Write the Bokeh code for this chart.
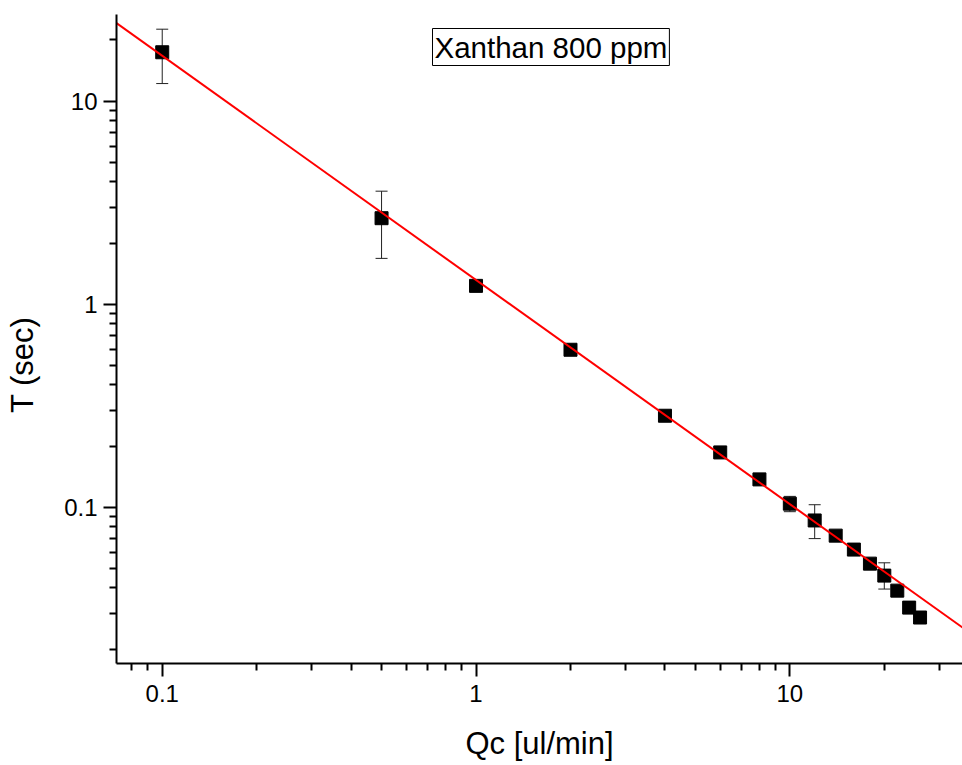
import math
from bokeh.plotting import figure
from bokeh.models import Range1d, FixedTicker, Whisker, TeeHead, ColumnDataSource, Label
from bokeh.embed import file_html
from bokeh.resources import INLINE

# ---- data ----
qc = [0.1, 0.5, 1, 2, 4, 6, 8, 10, 12, 14, 16, 18, 20, 22, 24, 26]
t_sec = [17.4, 2.65, 1.23, 0.596, 0.282, 0.186, 0.137, 0.104, 0.086, 0.0724,
         0.0618, 0.0527, 0.046, 0.0388, 0.032, 0.0286]

err_qc = [0.1, 0.5, 10, 12, 20]
err_lo = [12.2, 1.68, 0.095, 0.070, 0.0395]
err_hi = [22.6, 3.60, 0.113, 0.1028, 0.0532]

fit_qc = [0.0715, 35.5]
fit_t = [24.2, 0.02555]

x_major = [0.1, 1, 10]
x_minor = [0.08, 0.09, 0.2, 0.3, 0.4, 0.5, 0.6, 0.7, 0.8, 0.9,
           2, 3, 4, 5, 6, 7, 8, 9, 20, 30]
y_major = [0.1, 1, 10]
y_minor = [0.02, 0.03, 0.04, 0.05, 0.06, 0.07, 0.08, 0.09,
           0.2, 0.3, 0.4, 0.5, 0.6, 0.7, 0.8, 0.9,
           2, 3, 4, 5, 6, 7, 8, 9, 20]

FONT = "Liberation Sans"

p = figure(width=962, height=765, x_axis_type="log", y_axis_type="log",
           x_range=Range1d(0.0715, 35.5), y_range=Range1d(0.01698, 26.7),
           output_backend="svg", toolbar_location=None,
           min_border_left=116, min_border_right=0, min_border_top=14,
           min_border_bottom=102)
p.outline_line_color = None
p.xgrid.visible = False
p.ygrid.visible = False
p.background_fill_color = "white"
p.border_fill_color = "white"

for ax, maj, mnr in ((p.xaxis[0], x_major, x_minor), (p.yaxis[0], y_major, y_minor)):
    ax.ticker = FixedTicker(ticks=maj, minor_ticks=mnr)
    ax.major_label_overrides = {0.1: "0.1", 1: "1", 10: "10"}
    ax.axis_line_width = 2
    ax.axis_line_color = "black"
    ax.major_tick_line_width = 2
    ax.minor_tick_line_width = 2
    ax.major_tick_line_color = "black"
    ax.minor_tick_line_color = "black"
    ax.major_tick_out = 13
    ax.major_tick_in = 0
    ax.minor_tick_out = 7
    ax.minor_tick_in = 0
    ax.major_label_text_font = FONT
    ax.major_label_text_font_size = "24px"
    ax.major_label_text_color = "black"
    ax.axis_label_text_font = FONT
    ax.axis_label_text_font_size = "31px"
    ax.axis_label_text_font_style = "normal"
    ax.axis_label_text_color = "black"

p.xaxis.major_label_standoff = 8
p.yaxis.major_label_standoff = 6
p.xaxis.axis_label = "Qc [ul/min]"
p.xaxis.axis_label_standoff = 21
p.yaxis.axis_label = "T (sec)      "
p.yaxis.axis_label_standoff = 21

# error bars
esrc = ColumnDataSource(dict(x=err_qc, lo=err_lo, hi=err_hi))
wh = Whisker(source=esrc, base="x", lower="lo", upper="hi", dimension="height",
             line_color="#222222", line_width=1,
             upper_head=TeeHead(size=12, line_color="#222222", line_width=1),
             lower_head=TeeHead(size=12, line_color="#222222", line_width=1))
p.add_layout(wh)

p.scatter(qc, t_sec, marker="square", size=13, fill_color="black", line_color="black")
p.line(fit_qc, fit_t, line_color="#ff0000", line_width=2)

# annotation box
p.add_layout(Label(x=316, y=598, x_units="screen", y_units="screen",
                   text="Xanthan 800 ppm", text_align="left", text_baseline="bottom",
                   text_font=FONT, text_font_size="29.5px", text_color="black",
                   border_line_color="black", border_line_width=1,
                   background_fill_color="white", padding=2))

open("out.html", "w").write(file_html(p, INLINE))
